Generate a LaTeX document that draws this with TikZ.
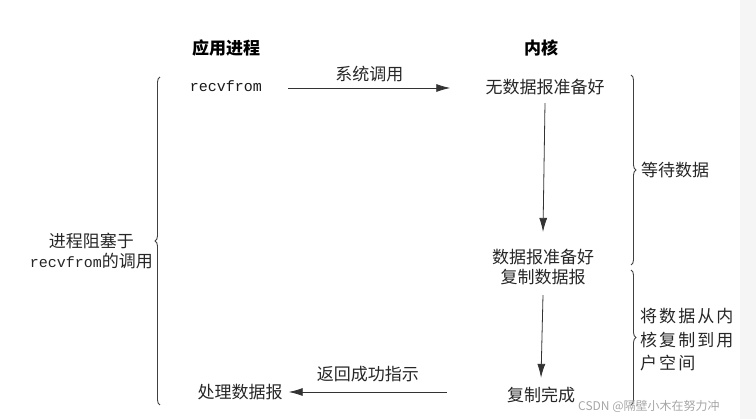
\documentclass[tikz,border=0pt]{standalone}
\usepackage{fontspec}
\setmainfont{Liberation Serif}
\newfontfamily\cjk{Noto Sans CJK SC}
\newfontfamily\cjkwide[LetterSpace=12]{Noto Sans CJK SC}
\newfontfamily\monof{Liberation Mono}
\usetikzlibrary{arrows.meta,decorations.pathreplacing}
\begin{document}
\begin{tikzpicture}[x=1pt,y=-1pt,
  txt/.style={inner sep=0pt,font=\cjk\fontsize{17}{20}\selectfont,text=black!85},
  head/.style={inner sep=0pt,font=\cjk\bfseries\fontsize{17}{20}\selectfont},
  mono/.style={inner sep=0pt,font=\monof\fontsize{15}{20}\selectfont,text=black!90},
  arr/.style={draw=black!80,line width=0.8pt,-{Latex[length=14pt,width=8pt]}},
  brc/.style={draw=black!75,line width=0.9pt,decorate,decoration={brace,amplitude=5pt,aspect=0.5}}]
\useasboundingbox (0,0) rectangle (756,419);
\fill[black!4] (740,0) rectangle (756,419);
% headers
\node[head] (hApp) at (226,48) {应用进程};
\node[head] (hKer) at (541,48) {内核};
% left column
\node[mono] (recv) at (226,86) {recvfrom};
\node[txt] (proc) at (240,392) {处理数据报};
% kernel column
\node[txt] (nodata) at (545,87) {无数据报准备好};
\node[txt,align=center] (ready) at (543,267) {数据报准备好\\复制数据报};
\node[txt] (done) at (541,395) {复制完成};
% arrows
\draw[arr] ([xshift=26pt,yshift=-2pt]recv.east) -- ([xshift=-35pt,yshift=-1pt]nodata.west)
  node[midway,above=6pt,txt] (syscall) {系统调用};
\draw[arr] ([yshift=-8pt]nodata.south) -- ([yshift=17pt]ready.north);
\draw[arr] ([yshift=-10pt]ready.south) -- ([yshift=9pt]done.north);
\draw[arr] ([xshift=-60pt,yshift=3pt]done.west) -- ([xshift=6pt]proc.east)
  node[midway,above=10pt,txt] (ret) {返回成功指示};
% braces
\coordinate (lbTop) at (160,77);
\coordinate (lbBot) at (160,405);
\draw[brc] (lbBot) -- (lbTop);
\node[txt,align=center,anchor=east] (block) at (153,251) {进程阻塞于\\{\monof\fontsize{15}{20}\selectfont recvfrom}的调用};
\coordinate (rb1Top) at (631,75);
\coordinate (rb1Bot) at (631,265);
\draw[brc] (rb1Top) -- (rb1Bot);
\node[txt,anchor=west] (wait) at (641,170) {等待数据};
\coordinate (rb2Top) at (631,270);
\coordinate (rb2Bot) at (631,405);
\draw[brc] (rb2Top) -- (rb2Bot);
\node[txt,anchor=west,align=left,font=\cjkwide\fontsize{17}{23.5}\selectfont] (copy) at (640,340) {将数据从内\\核复制到用\\户空间};
% watermark
\node[inner sep=0pt,anchor=west,font=\cjk\fontsize{12}{14}\selectfont,text=black!35] (wm) at (578,406) {CSDN @隔壁小木在努力冲};
\end{tikzpicture}
\end{document}
